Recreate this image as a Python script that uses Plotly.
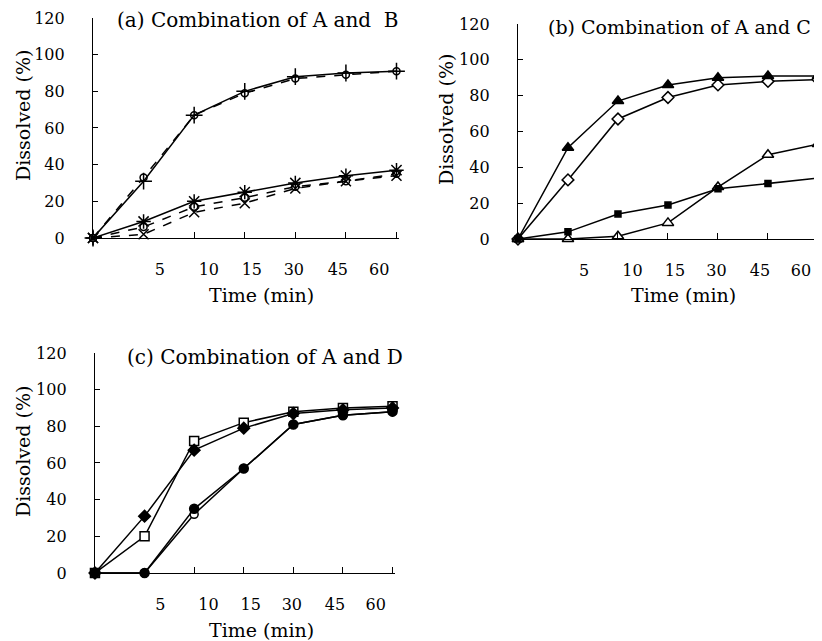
import plotly.graph_objects as go

# ---- data ----
time_index = [0, 1, 2, 3, 4, 5, 6]
time_labels = ["5", "10", "15", "30", "45", "60"]
label_pos = [1.32, 2.29, 3.14, 3.97, 4.84, 5.66]
minor_pos = [2, 3, 4, 5, 6]
y_ticks = [0, 20, 40, 60, 80, 100, 120]

# (a) Combination of A and B
a_combo = [0, 31, 67, 80, 88, 90, 91]
a_A = [0, 33, 67, 79, 87, 89, 91]
a_star = [0, 9, 20, 25, 30, 34, 37]
a_circle = [0, 6, 17, 22, 28, 31, 35]
a_cross = [0, 2, 14, 19, 27, 31, 34]

# (b) Combination of A and C
b_tri = [0, 51, 77, 86, 90, 91, 91]
b_A = [0, 33, 67, 79, 86, 88, 89]
b_sq = [0, 4, 14, 19, 28, 31, 34]
b_tri_open = [0, 0, 1.5, 9, 29, 47, 53]

# (c) Combination of A and D
c_sq_open = [0, 20, 72, 82, 88, 90, 91]
c_A = [0, 31, 67, 79, 87, 89, 90]
c_circ = [0, 0, 35, 57, 81, 86, 88]
c_circ_open = [0, 0, 32, 57, 81, 86, 88]

FONT = "DejaVu Serif"
BLACK = "black"

fig = go.Figure()


def add(xa, ya, y, symbol, dash="solid", size=9, fill="white"):
    fig.add_trace(go.Scatter(
        x=time_index, y=y, xaxis=xa, yaxis=ya, mode="lines+markers",
        line=dict(color=BLACK, width=1.5, dash=dash),
        marker=dict(symbol=symbol, size=size, color=fill,
                    line=dict(color=BLACK, width=1.5)),
        cliponaxis=False, showlegend=False))


# panel a
add("x", "y", a_A, "circle", "dash", 7)
add("x", "y", a_combo, "cross-thin-open", "solid", 12, BLACK)
add("x", "y", a_circle, "circle", "dash", 7)
add("x", "y", a_cross, "x-thin-open", "dash", 10, BLACK)
add("x", "y", a_star, "asterisk-open", "solid", 12, BLACK)

# panel b
add("x2", "y2", b_A, "diamond", "solid", 9)
add("x2", "y2", b_tri, "triangle-up", "solid", 10, BLACK)
add("x2", "y2", b_tri_open, "triangle-up", "solid", 10)
add("x2", "y2", b_sq, "square", "solid", 6, BLACK)

# panel c
add("x3", "y3", c_sq_open, "square", "solid", 9)
add("x3", "y3", c_A, "diamond", "solid", 9, BLACK)
add("x3", "y3", c_circ_open, "circle", "solid", 8)
add("x3", "y3", c_circ, "circle", "solid", 9, BLACK)


def xaxis(domain, anchor, rng):
    return dict(domain=domain, anchor=anchor, range=rng, automargin=False,
                tickmode="array", tickvals=label_pos, ticktext=time_labels,
                ticks="", showline=True, linecolor=BLACK, linewidth=1.2,
                showgrid=False, zeroline=False, ticklabelstandoff=17,
                ticklabeloverflow="allow",
                tickfont=dict(family=FONT, size=16, color=BLACK),
                minor=dict(tickmode="array", tickvals=minor_pos, ticks="inside",
                           ticklen=6, tickcolor=BLACK, tickwidth=1.2, showgrid=False))


def yaxis(domain, anchor):
    return dict(domain=domain, anchor=anchor, range=[0, 120], automargin=False,
                tickmode="array", tickvals=y_ticks,
                ticks="inside", ticklen=5, tickcolor=BLACK, tickwidth=1.2,
                showline=True, linecolor=BLACK, linewidth=1.2,
                showgrid=False, zeroline=False, ticklabelstandoff=24,
                ticklabeloverflow="allow",
                tickfont=dict(family=FONT, size=16, color=BLACK))


fig.update_layout(
    width=822, height=641,
    margin=dict(l=0, r=0, t=0, b=0, pad=0),
    paper_bgcolor="white", plot_bgcolor="white",
    font=dict(family=FONT, color=BLACK),
    xaxis=xaxis([0.1034, 0.4757], "y", [0, 6.05]),
    yaxis=yaxis([0.6412, 0.9844], "x"),
    xaxis2=xaxis([0.6204, 0.9878], "y2", [0, 6.04]),
    yaxis2=yaxis([0.6396, 0.9750], "x2"),
    xaxis3=xaxis([0.1058, 0.4708], "y3", [0, 6.05]),
    yaxis3=yaxis([0.1186, 0.4618], "x3"),
)

ann_font = dict(family=FONT, size=19, color=BLACK)
titles = [
    ("(a) Combination of A and  B", 0.1302, 0.9820, 20),
    ("(b) Combination of A and C", 0.6545, 0.9704, 19),
    ("(c) Combination of A and D", 0.1423, 0.4555, 20),
]
for text, x, y, size in titles:
    fig.add_annotation(text=text, x=x, y=y, xref="paper", yref="paper",
                       xanchor="left", yanchor="middle", showarrow=False,
                       font=dict(family=FONT, size=size, color=BLACK))

for x, y in [(0.3090, 0.5523), (0.8212, 0.5523), (0.3078, 0.0296)]:
    fig.add_annotation(text="Time (min)", x=x, y=y, xref="paper", yref="paper",
                       xanchor="center", yanchor="middle", showarrow=False, font=ann_font)

for x, y in [(0.0182, 0.8331), (0.5328, 0.8268), (0.0182, 0.3089)]:
    fig.add_annotation(text="Dissolved (%)", x=x, y=y, xref="paper", yref="paper",
                       xanchor="center", yanchor="middle", textangle=-90,
                       showarrow=False, font=ann_font)

fig.write_html("out.html")
